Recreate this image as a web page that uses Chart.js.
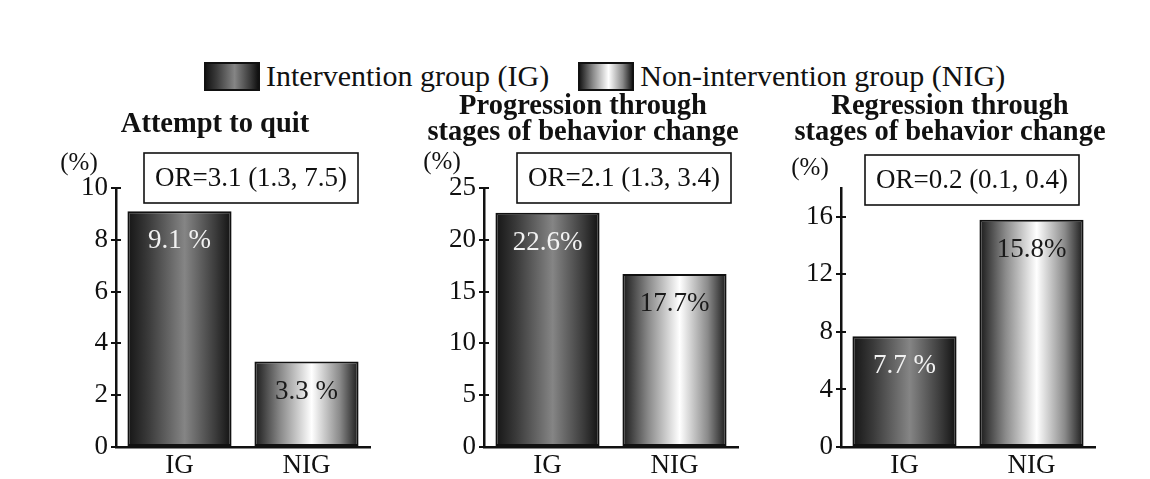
<!DOCTYPE html>
<html>
<head>
<meta charset="utf-8">
<script src="https://cdn.jsdelivr.net/npm/chart.js@4/dist/chart.umd.min.js"></script>
<style>
  body { margin: 0; background: #fff; font-family: "Liberation Serif", serif; }
  #page { position: relative; width: 1150px; height: 479px; overflow: hidden; }
  canvas { position: absolute; top: 0; }
  .legend { position: absolute; top: 56px; left: 204px; height: 40px; display: flex; align-items: center; font-size: 30px; color: #111; white-space: nowrap; }
  .swatch { width: 52px; height: 25px; border: 2px solid #111; margin-right: 6px; }
  .ig { background: linear-gradient(to right, #151515 0%, #3a3a3a 20%, #858585 55%, #3a3a3a 85%, #111 100%); }
  .nig { background: linear-gradient(to right, #1a1a1a 0%, #8a8a8a 25%, #ffffff 55%, #8a8a8a 82%, #1a1a1a 100%); }
</style>
</head>
<body>
<div id="page">
  <div class="legend">
    <div class="swatch ig"></div><span style="margin-right:29px">Intervention group (IG)</span>
    <div class="swatch nig"></div><span>Non-intervention group (NIG)</span>
  </div>
  <canvas id="c1" style="left:0px"></canvas>
  <canvas id="c2" style="left:390px"></canvas>
  <canvas id="c3" style="left:760px"></canvas>
</div>
<script>
// data
const categories = ['IG', 'NIG'];
const attemptValues = [9.1, 3.3];
const progressionValues = [22.6, 16.7];
const regressionValues = [7.7, 15.8];
const attemptLabels = ['9.1 %', '3.3 %'];
const progressionLabels = ['22.6%', '17.7%'];
const regressionLabels = ['7.7 %', '15.8%'];
const panelTitles = [
    ['Attempt to quit'],
    ['Progression through', 'stages of behavior change'],
    ['Regression through', 'stages of behavior change']
];
const oddsRatios = ['OR=3.1 (1.3, 7.5)', 'OR=2.1 (1.3, 3.4)', 'OR=0.2 (0.1, 0.4)'];
const yMaxes = [10, 25, 18];
const ySteps = [2, 5, 4];

const SERIF = '"Liberation Serif", serif';

// horizontal shading for each bar, like the printed figure
function barGradient(context) {
    const chart = context.chart;
    const xs = chart.scales.x;
    if (!chart.chartArea || !xs) return '#555';
    const center = xs.getPixelForTick(context.dataIndex);
    const w = xs.width / categories.length * 0.82;
    const g = chart.ctx.createLinearGradient(center - w / 2, 0, center + w / 2, 0);
    if (context.dataIndex === 0) {
        g.addColorStop(0, '#151515');
        g.addColorStop(0.2, '#3a3a3a');
        g.addColorStop(0.55, '#858585');
        g.addColorStop(0.85, '#3a3a3a');
        g.addColorStop(1, '#111111');
    } else {
        g.addColorStop(0, '#1a1a1a');
        g.addColorStop(0.25, '#8a8a8a');
        g.addColorStop(0.55, '#ffffff');
        g.addColorStop(0.82, '#8a8a8a');
        g.addColorStop(1, '#1a1a1a');
    }
    return g;
}

// titles, "(%)", OR box, value labels, inner half of the y ticks
const panelDecor = {
    id: 'panelDecor',
    afterDraw(chart, args, opts) {
        const ctx = chart.ctx;
        const area = chart.chartArea;
        const ys = chart.scales.y;
        ctx.save();

        ctx.strokeStyle = '#111';
        ctx.lineWidth = 2;
        ys.ticks.forEach(t => {
            const py = Math.round(ys.getPixelForValue(t.value));
            ctx.beginPath();
            ctx.moveTo(area.left, py);
            ctx.lineTo(area.left + 5, py);
            ctx.stroke();
        });

        ctx.textAlign = 'center';
        ctx.textBaseline = 'alphabetic';
        ctx.fillStyle = '#111';
        ctx.font = 'bold 28.5px ' + SERIF;
        opts.title.forEach((line, i) => {
            ctx.fillText(line, opts.titleX, opts.titleBase + i * 26);
        });

        ctx.textBaseline = 'middle';
        ctx.font = '25px ' + SERIF;
        ctx.fillText('(%)', opts.unitX, opts.unitY);

        ctx.lineWidth = 1.6;
        const bx = area.left + opts.boxOffset;
        ctx.strokeRect(bx, opts.boxTop, 214, 50);
        ctx.font = '27px ' + SERIF;
        ctx.fillText(opts.orText, bx + 107, opts.boxTop + 26);

        const meta = chart.getDatasetMeta(0);
        ctx.font = '27px ' + SERIF;
        meta.data.forEach((bar, i) => {
            ctx.fillStyle = i === 0 ? '#f2f2f2' : '#1a1a1a';
            ctx.fillText(opts.labels[i], bar.x, bar.y + 30);
        });
        ctx.restore();
    }
};

function makePanel(id, width, axisWidth, padRight, values, labels, idx, decor) {
    const el = document.getElementById(id);
    el.width = width;
    el.height = 479;
    el.style.width = width + 'px';
    el.style.height = '479px';
    return new Chart(el.getContext('2d'), {
        type: 'bar',
        data: {
            labels: categories,
            datasets: [{
                data: values,
                backgroundColor: barGradient,
                borderColor: '#111',
                borderWidth: 2,
                borderSkipped: false,
                barPercentage: 0.82,
                categoryPercentage: 1.0
            }]
        },
        options: {
            responsive: false,
            animation: false,
            devicePixelRatio: 1,
            layout: { padding: { top: 188, right: padRight, left: 0, bottom: 0 } },
            plugins: {
                legend: { display: false },
                tooltip: { enabled: false },
                panelDecor: Object.assign({ title: panelTitles[idx], orText: oddsRatios[idx], labels: labels }, decor)
            },
            scales: {
                x: {
                    grid: { display: false, drawTicks: false },
                    border: { color: '#111', width: 2.5 },
                    ticks: { color: '#111', font: { family: SERIF, size: 27 }, padding: 3 },
                    afterFit(s) { s.height = 32; }
                },
                y: {
                    min: 0,
                    max: yMaxes[idx],
                    afterBuildTicks(s) {
                        const ticks = [];
                        for (let v = 0; v <= yMaxes[idx]; v += ySteps[idx]) ticks.push({ value: v });
                        s.ticks = ticks;
                    },
                    grid: { drawOnChartArea: false, color: '#111', lineWidth: 2, tickLength: 5 },
                    border: { color: '#111', width: 2.5 },
                    ticks: { autoSkip: false, color: '#111', font: { family: SERIF, size: 27 }, padding: 3 },
                    afterFit(s) { s.width = axisWidth; }
                }
            }
        },
        plugins: [panelDecor]
    });
}

makePanel('c1', 390, 116, 20, attemptValues, attemptLabels, 0,
    { titleX: 215, titleBase: 132, unitX: 79, unitY: 163, boxOffset: 28, boxTop: 153 });
makePanel('c2', 370, 94, 22, progressionValues, progressionLabels, 1,
    { titleX: 193, titleBase: 114, unitX: 52, unitY: 162, boxOffset: 33, boxTop: 153 });
makePanel('c3', 390, 81, 55, regressionValues, regressionLabels, 2,
    { titleX: 190, titleBase: 114, unitX: 50, unitY: 168, boxOffset: 24, boxTop: 155 });
</script>
</body>
</html>
